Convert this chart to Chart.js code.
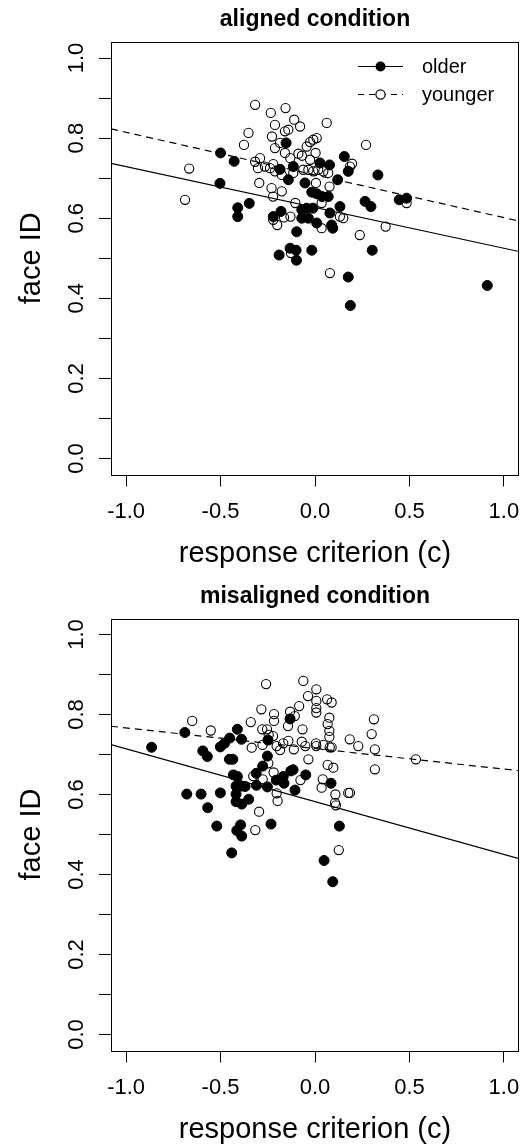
<!DOCTYPE html>
<html lang="en">
<head>
    <meta charset="UTF-8">
    <title>Face ID vs response criterion</title>
    <script src="https://cdn.jsdelivr.net/npm/chart.js"></script>
    <style>
        body { margin: 0; background: #fff; }
        canvas { display: block; }
    </style>
</head>
<body>
    <canvas id="aligned" width="525" height="572"></canvas>
    <canvas id="misaligned" width="525" height="573"></canvas>

    <script>
        // tick positions
        const xTicks = [-1.0, -0.5, 0.0, 0.5, 1.0];
        const yTicks = [0.0, 0.1, 0.2, 0.3, 0.4, 0.5, 0.6, 0.7, 0.8, 0.9, 1.0];
        const yLabels = [0.0, 0.2, 0.4, 0.6, 0.8, 1.0];

        // aligned condition
        const alignedOlderX = [-0.500, -0.428, -0.503, -0.409, -0.409, -0.348, -0.153, -0.185, -0.115, -0.141, -0.053, 0.026, 0.077, 0.155, 0.176, 0.120, -0.017, 0.009, 0.037, 0.070, -0.180, -0.221, -0.097, -0.070, -0.044, -0.011, -0.070, -0.035, 0.009, 0.079, 0.088, 0.094, 0.132, 0.265, 0.296, 0.333, 0.446, 0.485, -0.190, -0.132, -0.100, -0.098, -0.017, 0.303, 0.176, 0.187, 0.912];
        const alignedOlderY = [0.763, 0.742, 0.687, 0.626, 0.604, 0.637, 0.788, 0.722, 0.729, 0.696, 0.688, 0.738, 0.733, 0.754, 0.717, 0.696, 0.665, 0.661, 0.654, 0.654, 0.617, 0.604, 0.566, 0.621, 0.625, 0.625, 0.600, 0.600, 0.588, 0.613, 0.583, 0.575, 0.629, 0.642, 0.629, 0.708, 0.646, 0.650, 0.508, 0.525, 0.520, 0.495, 0.520, 0.520, 0.453, 0.382, 0.432];
        const alignedYoungerX = [-0.317, -0.234, -0.156, -0.212, -0.110, -0.079, -0.352, -0.228, -0.159, -0.141, -0.376, -0.212, -0.185, -0.159, -0.131, -0.088, -0.069, -0.044, -0.026, -0.009, 0.009, 0.003, -0.026, 0.062, -0.317, -0.302, -0.291, -0.265, -0.238, -0.221, -0.212, -0.176, -0.115, -0.062, -0.035, -0.009, 0.017, 0.044, 0.070, 0.077, 0.005, -0.295, -0.230, -0.222, -0.176, -0.666, -0.688, -0.104, 0.035, -0.221, -0.200, -0.164, -0.130, 0.035, 0.132, 0.150, 0.270, 0.185, 0.196, 0.237, 0.374, 0.485, 0.079, -0.127];
        const alignedYoungerY = [0.883, 0.863, 0.875, 0.833, 0.846, 0.829, 0.813, 0.804, 0.817, 0.821, 0.783, 0.775, 0.788, 0.763, 0.750, 0.761, 0.756, 0.779, 0.790, 0.796, 0.800, 0.763, 0.746, 0.838, 0.741, 0.725, 0.750, 0.729, 0.725, 0.735, 0.717, 0.708, 0.713, 0.721, 0.721, 0.717, 0.721, 0.717, 0.713, 0.679, 0.688, 0.688, 0.675, 0.654, 0.667, 0.724, 0.646, 0.638, 0.638, 0.596, 0.583, 0.602, 0.604, 0.575, 0.604, 0.600, 0.783, 0.729, 0.736, 0.558, 0.579, 0.638, 0.463, 0.513];
        // regression lines: [intercept, slope]
        const alignedOlderFit = [0.627, -0.102];
        const alignedYoungerFit = [0.708, -0.1065];

        // misaligned condition
        const misalignedOlderX = [-0.865, -0.689, -0.594, -0.570, -0.501, -0.479, -0.452, -0.411, -0.389, -0.453, -0.435, -0.679, -0.603, -0.501, -0.568, -0.520, -0.432, -0.411, -0.388, -0.418, -0.370, -0.418, -0.418, -0.388, -0.351, -0.414, -0.394, -0.388, -0.441, -0.310, -0.311, -0.277, -0.252, -0.252, -0.233, -0.249, -0.132, -0.205, -0.168, -0.164, -0.128, -0.116, -0.106, -0.049, 0.085, 0.129, 0.048, 0.094];
        const misalignedOlderY = [0.718, 0.755, 0.709, 0.695, 0.719, 0.728, 0.741, 0.763, 0.738, 0.688, 0.688, 0.601, 0.601, 0.604, 0.567, 0.521, 0.649, 0.645, 0.621, 0.621, 0.620, 0.601, 0.582, 0.576, 0.588, 0.510, 0.524, 0.496, 0.454, 0.623, 0.653, 0.671, 0.696, 0.619, 0.526, 0.736, 0.789, 0.636, 0.645, 0.628, 0.659, 0.662, 0.611, 0.649, 0.628, 0.521, 0.435, 0.382];
        const misalignedYoungerX = [-0.650, -0.552, -0.340, -0.284, -0.259, -0.217, -0.217, -0.279, -0.254, -0.245, -0.222, -0.335, -0.278, -0.203, -0.185, -0.168, -0.141, -0.112, -0.132, -0.107, -0.143, -0.084, -0.062, -0.037, 0.007, 0.007, 0.007, 0.007, 0.064, 0.088, 0.076, 0.067, 0.076, 0.076, -0.066, -0.051, -0.070, 0.005, 0.007, 0.044, 0.078, 0.088, -0.035, -0.247, -0.219, -0.327, -0.277, 0.067, 0.097, 0.041, 0.035, -0.077, -0.203, -0.198, 0.108, 0.106, 0.111, 0.184, 0.229, 0.176, 0.185, -0.296, -0.316, 0.126, 0.312, 0.300, 0.317, 0.317, 0.534];
        const misalignedYoungerY = [0.784, 0.760, 0.781, 0.813, 0.876, 0.801, 0.784, 0.763, 0.763, 0.749, 0.746, 0.717, 0.724, 0.721, 0.711, 0.728, 0.734, 0.713, 0.807, 0.796, 0.771, 0.821, 0.884, 0.846, 0.863, 0.834, 0.816, 0.805, 0.838, 0.830, 0.792, 0.776, 0.759, 0.744, 0.763, 0.721, 0.732, 0.728, 0.721, 0.724, 0.718, 0.718, 0.688, 0.678, 0.655, 0.646, 0.638, 0.674, 0.667, 0.638, 0.617, 0.636, 0.603, 0.584, 0.600, 0.579, 0.573, 0.738, 0.721, 0.604, 0.604, 0.557, 0.511, 0.461, 0.788, 0.751, 0.713, 0.663, 0.688];
        const misalignedOlderFit = [0.582, -0.132];
        const misalignedYoungerFit = [0.715, -0.0515];

        const X_MIN = -1.08, X_MAX = 1.08;
        const FONT = '"Liberation Sans", Arial, Helvetica, sans-serif';

        function pairs(xs, ys) {
            return xs.map((x, i) => ({ x: x, y: ys[i] }));
        }
        function fitLine(fit) {
            return [X_MIN, X_MAX].map(x => ({ x: x, y: fit[0] + fit[1] * x }));
        }

        // R-like frame: box, tick labels, titles, legend
        const rFrame = {
            id: 'rFrame',
            afterDraw(chart, args, opts) {
                const ctx = chart.ctx;
                const a = chart.chartArea;
                const xs = chart.scales.x, ys = chart.scales.y;
                ctx.save();
                ctx.strokeStyle = '#000';
                ctx.fillStyle = '#000';
                ctx.lineWidth = 1;
                ctx.setLineDash([]);
                ctx.strokeRect(Math.round(a.left) + 0.5, Math.round(a.top) + 0.5,
                    Math.round(a.right - a.left) - 1, Math.round(a.bottom - a.top));

                // tick labels
                ctx.font = '22px ' + FONT;
                ctx.textAlign = 'center';
                ctx.textBaseline = 'alphabetic';
                xs.ticks.forEach(t => {
                    ctx.fillText(t.value.toFixed(1), xs.getPixelForValue(t.value), a.bottom + 43);
                });
                ys.ticks.forEach(t => {
                    if (!yLabels.some(v => Math.abs(v - t.value) < 1e-9)) return;
                    ctx.save();
                    ctx.translate(a.left - 28, ys.getPixelForValue(t.value));
                    ctx.rotate(-Math.PI / 2);
                    ctx.fillText(t.value.toFixed(1), 0, 0);
                    ctx.restore();
                });

                // axis titles
                ctx.font = '29px ' + FONT;
                ctx.fillText('response criterion (c)', (a.left + a.right) / 2, a.bottom + 87);
                ctx.save();
                ctx.translate(a.left - 71.5, (a.top + a.bottom) / 2);
                ctx.rotate(-Math.PI / 2);
                ctx.fillText('face ID', 0, 0);
                ctx.restore();

                // main title
                ctx.font = 'bold 23px ' + FONT;
                ctx.fillText(opts.title, (a.left + a.right) / 2, a.top - 16);

                // legend
                if (opts.legend) {
                    const rows = [
                        { label: 'older', dash: [], fill: true, y: a.top + 24.5 },
                        { label: 'younger', dash: [6, 5], fill: false, y: a.top + 52.5 }
                    ];
                    ctx.font = '20px ' + FONT;
                    ctx.textAlign = 'left';
                    ctx.textBaseline = 'middle';
                    rows.forEach(r => {
                        const x0 = a.right - 161, x1 = a.right - 116, xm = a.right - 138.5;
                        ctx.setLineDash(r.dash);
                        ctx.lineWidth = 1.2;
                        ctx.beginPath();
                        ctx.moveTo(x0, r.y);
                        ctx.lineTo(x1, r.y);
                        ctx.stroke();
                        ctx.setLineDash([]);
                        ctx.beginPath();
                        ctx.arc(xm, r.y, r.fill ? 5 : 4.6, 0, Math.PI * 2);
                        if (r.fill) {
                            ctx.fill();
                        } else {
                            ctx.fillStyle = '#fff';
                            ctx.fill();
                            ctx.fillStyle = '#000';
                            ctx.stroke();
                        }
                        ctx.fillText(r.label, a.right - 97, r.y + 1);
                    });
                }
                ctx.restore();
            }
        };

        function makePanel(id, title, showLegend, olderPts, youngerPts, olderFit, youngerFit, padTop, xHeight) {
            const ctx = document.getElementById(id).getContext('2d');
            return new Chart(ctx, {
                type: 'scatter',
                data: {
                    datasets: [
                        {
                            type: 'line', label: 'older fit', data: fitLine(olderFit),
                            borderColor: '#000', borderWidth: 1.2, pointRadius: 0, fill: false
                        },
                        {
                            type: 'line', label: 'younger fit', data: fitLine(youngerFit),
                            borderColor: '#000', borderWidth: 1.2, borderDash: [7, 5], pointRadius: 0, fill: false
                        },
                        {
                            label: 'younger', data: youngerPts,
                            pointRadius: 4.6, pointBorderWidth: 1.1,
                            pointBackgroundColor: 'rgba(0,0,0,0)', pointBorderColor: '#000'
                        },
                        {
                            label: 'older', data: olderPts,
                            pointRadius: 5, pointBorderWidth: 1,
                            pointBackgroundColor: '#000', pointBorderColor: '#000'
                        }
                    ]
                },
                options: {
                    responsive: false,
                    animation: false,
                    devicePixelRatio: 1,
                    layout: { padding: { top: padTop, left: 0, right: 6, bottom: 0 } },
                    plugins: {
                        legend: { display: false },
                        tooltip: { enabled: false },
                        rFrame: { title: title, legend: showLegend }
                    },
                    scales: {
                        x: {
                            type: 'linear', min: X_MIN, max: X_MAX,
                            afterBuildTicks: s => { s.ticks = xTicks.map(v => ({ value: v })); },
                            afterFit: s => { s.height = xHeight; },
                            ticks: { display: false },
                            border: { display: false },
                            grid: { drawOnChartArea: false, drawTicks: true, tickLength: 12, color: '#000', lineWidth: 1 }
                        },
                        y: {
                            type: 'linear', min: -0.04, max: 1.04,
                            afterBuildTicks: s => { s.ticks = yTicks.map(v => ({ value: v })); },
                            afterFit: s => { s.width = 111; },
                            ticks: { display: false },
                            border: { display: false },
                            grid: { drawOnChartArea: false, drawTicks: true, tickLength: 12, color: '#000', lineWidth: 1 }
                        }
                    }
                },
                plugins: [rFrame]
            });
        }

        makePanel('aligned', 'aligned condition', true,
            pairs(alignedOlderX, alignedOlderY), pairs(alignedYoungerX, alignedYoungerY),
            alignedOlderFit, alignedYoungerFit, 42, 97.5);
        makePanel('misaligned', 'misaligned condition', false,
            pairs(misalignedOlderX, misalignedOlderY), pairs(misalignedYoungerX, misalignedYoungerY),
            misalignedOlderFit, misalignedYoungerFit, 46.5, 94.5);
    </script>
</body>
</html>
